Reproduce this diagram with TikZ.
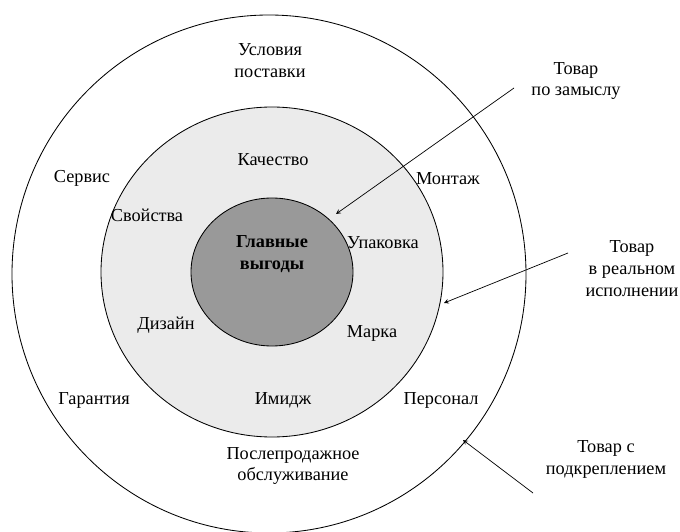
\documentclass[tikz,border=0pt]{standalone}
\usepackage{fontspec}
\setmainfont{Liberation Serif}
\begin{document}
\begin{tikzpicture}[x=0.025cm, y=-0.025cm, >=stealth,
    lbl/.style={align=center, inner sep=0pt, font=\fontsize{13}{15.6}\selectfont}]
    \useasboundingbox (0,0) rectangle (680,532);

    % Circles
    \draw[line width=0.6pt, fill=white] (269,274) ellipse [x radius=257, y radius=259];
    \draw[line width=0.6pt, fill=black!8] (272,272) ellipse [x radius=171, y radius=165];
    \draw[line width=0.6pt, fill=black!40] (272,272) ellipse [x radius=81, y radius=74];

    % Core
    \node[lbl, font=\fontsize{13}{15.6}\selectfont\bfseries] (core) at (272,254) {Главные\\выгоды};

    % Real product
    \node[lbl] (quality) at (273,160) {Качество};
    \node[lbl] (props) at (147,215) {Свойства};
    \node[lbl] (pack) at (383,243) {Упаковка};
    \node[lbl] (design) at (166,325) {Дизайн};
    \node[lbl] (brand) at (372,333) {Марка};
    \node[lbl] (image) at (283,400) {Имидж};

    % Augmented product
    \node[lbl] (delivery) at (270,61) {Условия\\поставки};
    \node[lbl] (service) at (82,178) {Сервис};
    \node[lbl] (mount) at (448,179) {Монтаж};
    \node[lbl] (warranty) at (94,400) {Гарантия};
    \node[lbl] (staff) at (441,400) {Персонал};
    \node[lbl] (after) at (293,466) {Послепродажное\\обслуживание};

    % Levels
    \node[lbl] (idea) at (576,81) {Товар\\по замыслу};
    \node[lbl] (real) at (632,269) {Товар\\в реальном\\исполнении};
    \node[lbl] (aug) at (606,459) {Товар с\\подкреплением};

    % Arrows
    \coordinate (ideaT) at (514,88);
    \coordinate (ideaH) at (336,214);
    \coordinate (realT) at (568,253);
    \coordinate (realH) at (444,303);
    \coordinate (augT) at (533,493);
    \coordinate (augH) at (463,440);
    \draw[->, line width=0.5pt] (ideaT) -- (ideaH);
    \draw[->, line width=0.5pt] (realT) -- (realH);
    \draw[->, line width=0.5pt] (augT) -- (augH);
\end{tikzpicture}
\end{document}
